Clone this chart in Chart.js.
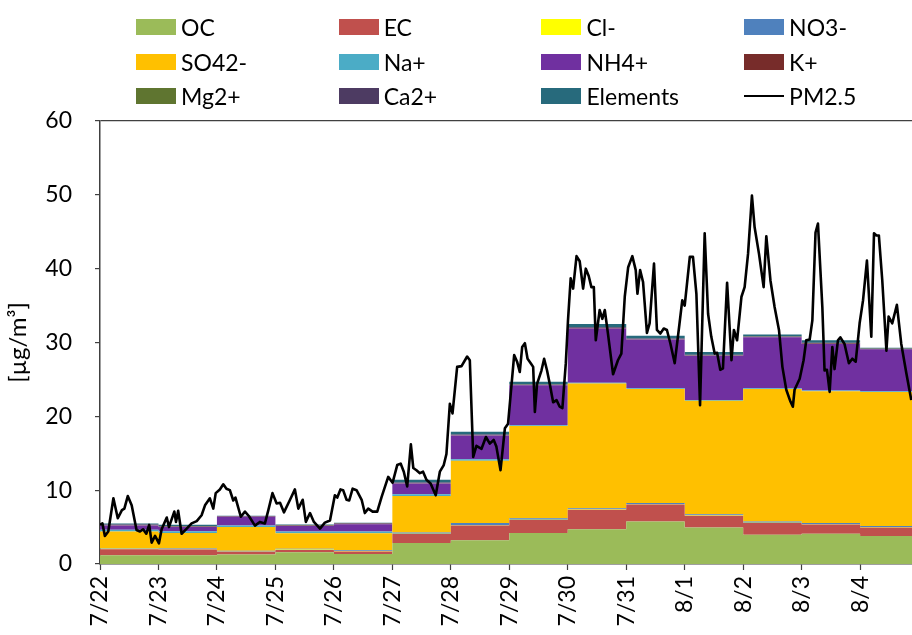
<!DOCTYPE html>
<html>
<head>
<meta charset="utf-8">
<script src="https://cdn.jsdelivr.net/npm/chart.js@4.4.1/dist/chart.umd.min.js"></script>
<style>
  html, body { margin: 0; padding: 0; background: #fff; }
  #wrap { position: relative; width: 912px; height: 635px; overflow: hidden; }
  #c { position: absolute; left: 0; top: 0; }
  .lg { position: absolute; display: flex; align-items: center; height: 34px;
        font-family: Lato, sans-serif; font-size: 23px; color: #000; white-space: nowrap; }
  .lg .sw { width: 40px; height: 16px; margin-right: 5px; flex: none; }
  .lg .ln { width: 40px; height: 0; border-top: 2px solid #000; margin-right: 5px; flex: none; }
</style>
</head>
<body>
<div id="wrap">
  <canvas id="c" width="912" height="635"></canvas>
</div>
<script>
// Day labels (one block per day, 7/22 – 8/4)
const days = ['7/22','7/23','7/24','7/25','7/26','7/27','7/28','7/29','7/30','7/31','8/1','8/2','8/3','8/4'];

// Daily mean composition, µg/m³
const OC       = [1.2, 1.2, 1.3, 1.6, 1.35, 2.85, 3.2, 4.2, 4.7, 5.75, 4.95, 3.95, 4.1, 3.8];
const EC       = [0.8, 0.75, 0.35, 0.3, 0.35, 1.2, 2.0, 1.75, 2.65, 2.3, 1.6, 1.6, 1.25, 1.15];
const Cl       = [0.05, 0.05, 0.05, 0.05, 0.05, 0.05, 0.05, 0.05, 0.05, 0.05, 0.05, 0.05, 0.05, 0.05];
const NO3      = [0.1, 0.1, 0.1, 0.1, 0.1, 0.15, 0.3, 0.2, 0.15, 0.15, 0.15, 0.15, 0.15, 0.15];
const SO4      = [2.25, 2.1, 3.2, 2.1, 2.3, 4.95, 8.45, 12.5, 16.9, 15.45, 15.35, 17.95, 17.85, 18.15];
const Na       = [0.25, 0.25, 0.2, 0.25, 0.25, 0.25, 0.2, 0.1, 0.1, 0.1, 0.1, 0.1, 0.1, 0.1];
const NH4      = [0.55, 0.55, 1.2, 0.75, 1.0, 1.45, 3.2, 5.4, 7.35, 6.6, 6.0, 6.9, 6.3, 5.7];
const K        = [0.05, 0.05, 0.03, 0.04, 0.04, 0.05, 0.05, 0.05, 0.05, 0.05, 0.05, 0.05, 0.05, 0.03];
const Mg       = [0.02, 0.02, 0.02, 0.02, 0.02, 0.02, 0.02, 0.02, 0.02, 0.02, 0.02, 0.02, 0.02, 0.02];
const Ca       = [0.08, 0.08, 0.05, 0.06, 0.06, 0.08, 0.08, 0.08, 0.08, 0.08, 0.08, 0.08, 0.08, 0.05];
const Elements = [0.15, 0.15, 0.05, 0.08, 0.08, 0.35, 0.35, 0.35, 0.45, 0.35, 0.35, 0.25, 0.35, 0.1];

// Hourly PM2.5: hours since 7/22 00:00 and concentration (µg/m³)
const pmHour = [0, 1, 2, 3.4, 5.5, 7.3, 9, 10, 11.4, 13, 15, 16.4, 17.7, 19, 20.2, 21.2, 22.6, 24.2,
  25.3, 27.4, 28.3, 30.5, 31.2, 32.1, 33.5, 35.6, 37.6, 39.7, 41.7, 43.1, 45.1, 46.5, 47.5, 49.2,
  50.6, 51.9, 53.3, 54.7, 55.6, 57.8, 59.5, 61.1, 63.6, 65.6, 67.7, 69.1, 70.8, 72.5, 73.9, 75.5,
  78, 80, 81.4, 83.2, 84.5, 86.2, 87.8, 90.3, 92.3, 94.4, 96.4, 97.4, 98.7, 99.8, 101.2, 102.3,
  103.7, 105.3, 107.4, 108.7, 110.1, 111.9, 113.8, 115.6, 118.3, 120.1, 122, 123.4, 124.7, 126.1,
  127.6, 128.6, 129.9, 131.3, 132.6, 134, 135.7, 137.8, 139.5, 141.1, 142.2, 143.6, 144.7, 146.6,
  148.4, 150.7, 151.8, 153.2, 154.5, 156.6, 158.4, 160, 161.6, 162.7, 164.4, 166.2, 167.5, 170,
  171.2, 172.3, 173.3, 174.4, 175.5, 176.8, 177.8, 178.5, 179.4, 181.2, 182.3, 183.5, 184.6, 186,
  187.4, 188.7, 189.8, 191.2, 192.1, 193.2, 194.2, 195.6, 196.9, 198.3, 199.4, 200.6, 201.7, 202.7,
  203.5, 205.1, 206.2, 207.2, 208.5, 210.6, 212.6, 214, 215.4, 216.8, 218.5, 219.9, 220.6, 221.7,
  222.9, 224.5, 225.6, 227.4, 228.6, 230, 231.4, 232.7, 234.1, 235.9, 237.7, 239, 240, 242.1, 243.4,
  244.8, 246.3, 248.2, 249.6, 250.9, 252.3, 253.3, 254.6, 255.7, 257.4, 259.2, 260.2, 261.5, 263.3,
  264.6, 266, 267.6, 268.7, 270.5, 272.4, 273.5, 275.2, 276.9, 278.7, 280.1, 281.7, 283.4, 284.4,
  285.1, 287.2, 288.8, 289.9, 291.3, 292.4, 293.7, 294.7, 296.5, 297.4, 298.4, 299.5, 300.6, 301.5,
  302.9, 303.9, 305.6, 307.4, 308.8, 310.2, 311.8, 313.2, 314.8, 316.6, 317.7, 318.7, 319.7, 321.1,
  322.8, 323.7, 325.2, 327.1, 328.9, 331, 333];
const pm25 = [5.3, 5.5, 3.8, 4.4, 8.9, 6.2, 7.3, 7.5, 9.2, 7.95, 4.6, 4.4, 4.7, 4.1, 5.3, 2.9, 3.8, 2.8,
  4.7, 6.3, 5.0, 7.1, 5.7, 7.2, 4.1, 4.8, 5.5, 5.8, 6.6, 7.95, 8.9, 7.5, 9.6, 10.1,
  10.8, 10.2, 10.0, 8.6, 9.0, 6.4, 7.1, 6.5, 5.2, 5.7, 5.5, 7.3, 9.6, 8.2, 8.3, 7.0,
  8.7, 10.1, 7.5, 8.7, 5.7, 6.9, 5.7, 4.8, 5.6, 5.9, 9.3, 9.0, 10.1, 10.0, 8.7, 8.6,
  10.2, 10.0, 8.7, 6.9, 7.5, 7.1, 7.1, 9.1, 11.8, 11.0, 13.4, 13.6, 12.5, 10.5,
  16.2, 13.0, 12.7, 12.3, 12.5, 11.4, 10.9, 9.3, 12.5, 13.4, 14.9, 21.7, 20.4, 26.7,
  26.8, 28.1, 27.6, 14.5, 16.0, 15.6, 17.2, 16.3, 16.8, 15.9, 12.7, 18.4, 19.0, 28.3,
  27.4, 26.0, 29.4, 29.9, 27.8, 27.2, 26.7, 20.6, 24.4, 26.2, 27.8, 26.2, 24.4, 21.9,
  22.2, 21.3, 21.1, 27.2, 33.0, 38.7, 37.3, 41.7, 41.0, 37.3, 40.0, 39.0, 37.5, 37.5,
  30.3, 34.4, 33.2, 34.4, 31.2, 25.7, 27.6, 28.5, 36.2, 40.2, 41.7, 39.8, 36.6, 39.8,
  38.2, 31.3, 32.6, 40.7, 31.7, 31.2, 31.9, 31.7, 29.9, 27.2, 32.1, 35.7, 35.0, 41.6, 41.6,
  36.6, 21.5, 44.8, 33.9, 30.8, 28.5, 28.6, 26.3, 26.5, 38.1, 27.6, 31.7, 30.3, 36.2,
  37.5, 42.0, 49.9, 45.6, 42.0, 37.5, 44.4, 38.4, 34.8, 31.7, 26.7, 23.6, 22.0, 21.3,
  23.6, 25.1, 27.6, 30.3, 30.4, 33.0, 44.9, 46.1, 34.8, 26.2, 26.3, 23.3, 29.4, 26.4,
  30.3, 30.7, 29.8, 27.2, 27.8, 27.4, 32.6, 35.7, 41.1, 30.8, 44.8, 44.5, 44.5, 38.4,
  28.9, 33.5, 32.6, 35.1, 29.8, 25.8, 22.2];

const HOURS_PER_DAY = 24;
const X_MAX = 333.3; // right edge of the plotted window, in hours

// One stepped block per day: value holds from the start of the day until the next day.
function dailySteps(values) {
  const pts = values.map((v, i) => ({ x: i * HOURS_PER_DAY, y: v }));
  pts.push({ x: values.length * HOURS_PER_DAY, y: values[values.length - 1] });
  return pts;
}

const layers = [
  ['OC', OC, '#9BBB59'],
  ['EC', EC, '#C0504D'],
  ['Cl-', Cl, '#FFFF00'],
  ['NO3-', NO3, '#4F81BD'],
  ['SO42-', SO4, '#FFC000'],
  ['Na+', Na, '#4BACC6'],
  ['NH4+', NH4, '#7030A0'],
  ['K+', K, '#772C2A'],
  ['Mg2+', Mg, '#5F7530'],
  ['Ca2+', Ca, '#4D3B62'],
  ['Elements', Elements, '#276A7C']
];

const datasets = layers.map(([label, values, color], i) => ({
  label,
  data: dailySteps(values),
  backgroundColor: color,
  borderColor: color,
  borderWidth: 0,
  pointRadius: 0,
  stepped: 'before',
  fill: i === 0 ? 'origin' : '-1',
  stack: 'composition'
}));

datasets.push({
  label: 'PM2.5',
  data: pmHour.map((h, i) => ({ x: h, y: pm25[i] })),
  borderColor: '#000000',
  backgroundColor: '#000000',
  borderWidth: 2.6,
  borderJoinStyle: 'round',
  pointRadius: 0,
  tension: 0,
  fill: false,
  stack: 'pm',
  order: -1
});

Chart.defaults.font.family = 'Lato, sans-serif';
Chart.defaults.font.size = 23;
Chart.defaults.color = '#000000';

const AXIS = '#404040';

const chart = new Chart(document.getElementById('c'), {
  type: 'line',
  data: { datasets },
  options: {
    responsive: false,
    animation: false,
    devicePixelRatio: 1,
    layout: { padding: { top: 121, left: 0, right: 0, bottom: 0 } },
    plugins: { legend: { display: false }, tooltip: { enabled: false } },
    scales: {
      x: {
        type: 'linear',
        min: 0,
        max: X_MAX,
        afterBuildTicks: (scale) => {
          scale.ticks = days.map((_, i) => ({ value: i * HOURS_PER_DAY }));
        },
        afterFit: (scale) => { scale.height = 71; },
        ticks: {
          callback: (v) => days[Math.round(v / HOURS_PER_DAY)],
          maxRotation: 90,
          minRotation: 90,
          autoSkip: false,
          padding: 6
        },
        grid: { drawOnChartArea: false, drawTicks: true, tickLength: 6, tickColor: AXIS, tickWidth: 1.2 },
        border: { display: true, color: AXIS, width: 1.5 }
      },
      y: {
        stacked: true,
        min: 0,
        max: 60,
        afterFit: (scale) => { scale.width = 100; },
        ticks: { stepSize: 10, padding: 23 },
        grid: {
          drawOnChartArea: true,
          drawTicks: true,
          tickLength: 5,
          tickColor: AXIS,
          color: (ctx) => (ctx.tick && ctx.tick.value === 60 ? AXIS : 'rgba(0,0,0,0)'),
          lineWidth: 1.2
        },
        border: { display: true, color: AXIS, width: 1.5 },
        title: {
          display: true,
          text: '[µg/m³]',
          font: { size: 24 },
          padding: { top: 4, bottom: 0 }
        }
      }
    }
  }
});

// Legend laid out as a 4-column grid above the plot
const wrap = document.getElementById('wrap');
chart.data.datasets.forEach((ds, i) => {
  const col = i % 4, row = Math.floor(i / 4);
  const item = document.createElement('div');
  item.className = 'lg';
  item.style.left = (136 + col * 202.7) + 'px';
  item.style.top = (10 + row * 34.5) + 'px';
  const mark = document.createElement('span');
  if (ds.stack === 'pm') {
    mark.className = 'ln';
  } else {
    mark.className = 'sw';
    mark.style.background = ds.backgroundColor;
  }
  const txt = document.createElement('span');
  txt.textContent = ds.label;
  item.appendChild(mark);
  item.appendChild(txt);
  wrap.appendChild(item);
});
</script>
</body>
</html>
